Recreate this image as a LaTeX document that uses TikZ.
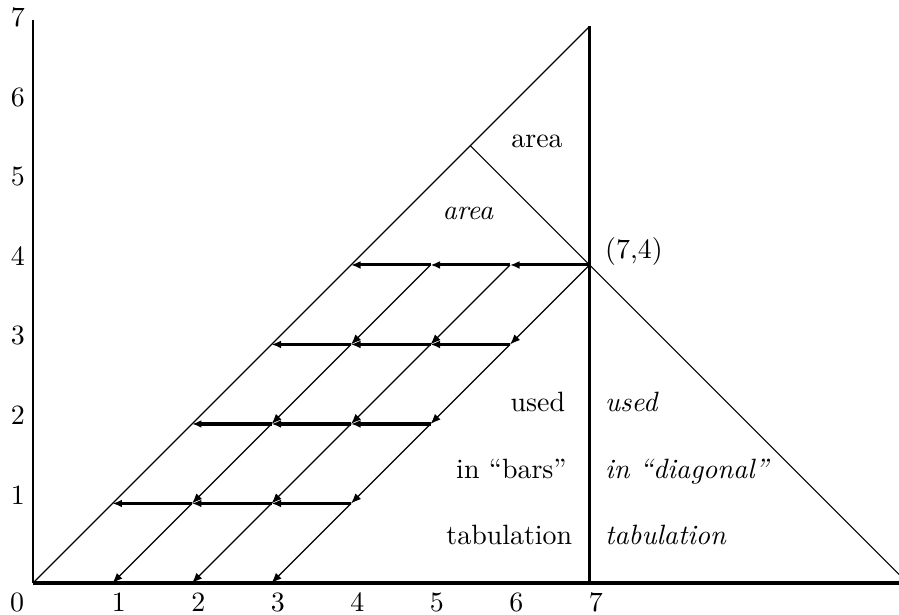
\documentclass[tikz,border=0pt]{standalone}
\usetikzlibrary{arrows.meta}
\begin{document}
\begin{tikzpicture}[x=1cm,y=1cm,
  thinline/.style={line width=0.4pt},
  axisline/.style={line width=1.1pt},
  yaxisline/.style={line width=0.9pt},
  sepline/.style={line width=0.85pt},
  harrow/.style={line width=1.1pt,-{Latex[length=3.4pt,width=2.8pt]}},
  darrow/.style={line width=0.4pt,-{Latex[length=3.6pt,width=2.8pt]}},
  lbl/.style={inner sep=0pt,font=\fontsize{10}{12}\selectfont}]
\useasboundingbox (-0.415,-0.4025) rectangle (10.893,7.333);
% grid coordinates
\foreach \i in {0,...,7} {\foreach \j in {0,...,4} {\coordinate (p\i\j) at (\i,\j);}}
\coordinate (o) at (0,0);
\coordinate (yend) at (0,7.08);
\coordinate (xend) at (10.95,0);
\coordinate (top) at (7,7);
\coordinate (apex) at (5.5,5.5);
\coordinate (rend) at (10.92,0.08);
% axes
\draw[yaxisline] (yend) -- (o);
\draw[axisline] (o) -- (xend);
% triangle
\draw[thinline] (o) -- (top);
\draw[sepline] (top) -- (p70);
\draw[thinline] (apex) -- (rend);
% horizontal arrows
\foreach \a/\b in {74/64,64/54,54/44, 63/53,53/43,43/33, 52/42,42/32,32/22, 41/31,31/21,21/11}
  \draw[harrow] (p\a) -- (p\b);
% diagonal arrows
\foreach \a/\b in {74/63,63/52,52/41,41/30, 64/53,53/42,42/31,31/20, 54/43,43/32,32/21,21/10}
  \draw[darrow] (p\a) -- (p\b);
% axis labels
\node[lbl] (x0) at (-0.2,-0.24) {0};
\foreach \i in {1,...,7} \node[lbl] (x\i) at (\i+0.08,-0.24) {\i};
\foreach \i in {1,...,7} \node[lbl] (y\i) at (-0.19,\i+0.11) {\i};
% texts
\node[lbl,anchor=base] (areaA) at (6.34,5.48) {area};
\node[lbl,anchor=base] (areaB) at (5.47,4.566) {\itshape area};
\node[lbl,anchor=base west] (pt) at (7.19,4.08) {(7,4)};
\node[lbl,anchor=base east] (u1) at (6.70,2.155) {used};
\node[lbl,anchor=base east] (u2) at (6.72,1.317) {in ``bars''};
\node[lbl,anchor=base east] (u3) at (6.79,0.478) {tabulation};
\node[lbl,anchor=base west] (v1) at (7.19,2.155) {\itshape used};
\node[lbl,anchor=base west] (v2) at (7.19,1.317) {\itshape in ``diagonal''};
\node[lbl,anchor=base west] (v3) at (7.19,0.478) {\itshape tabulation};
\end{tikzpicture}
\end{document}
